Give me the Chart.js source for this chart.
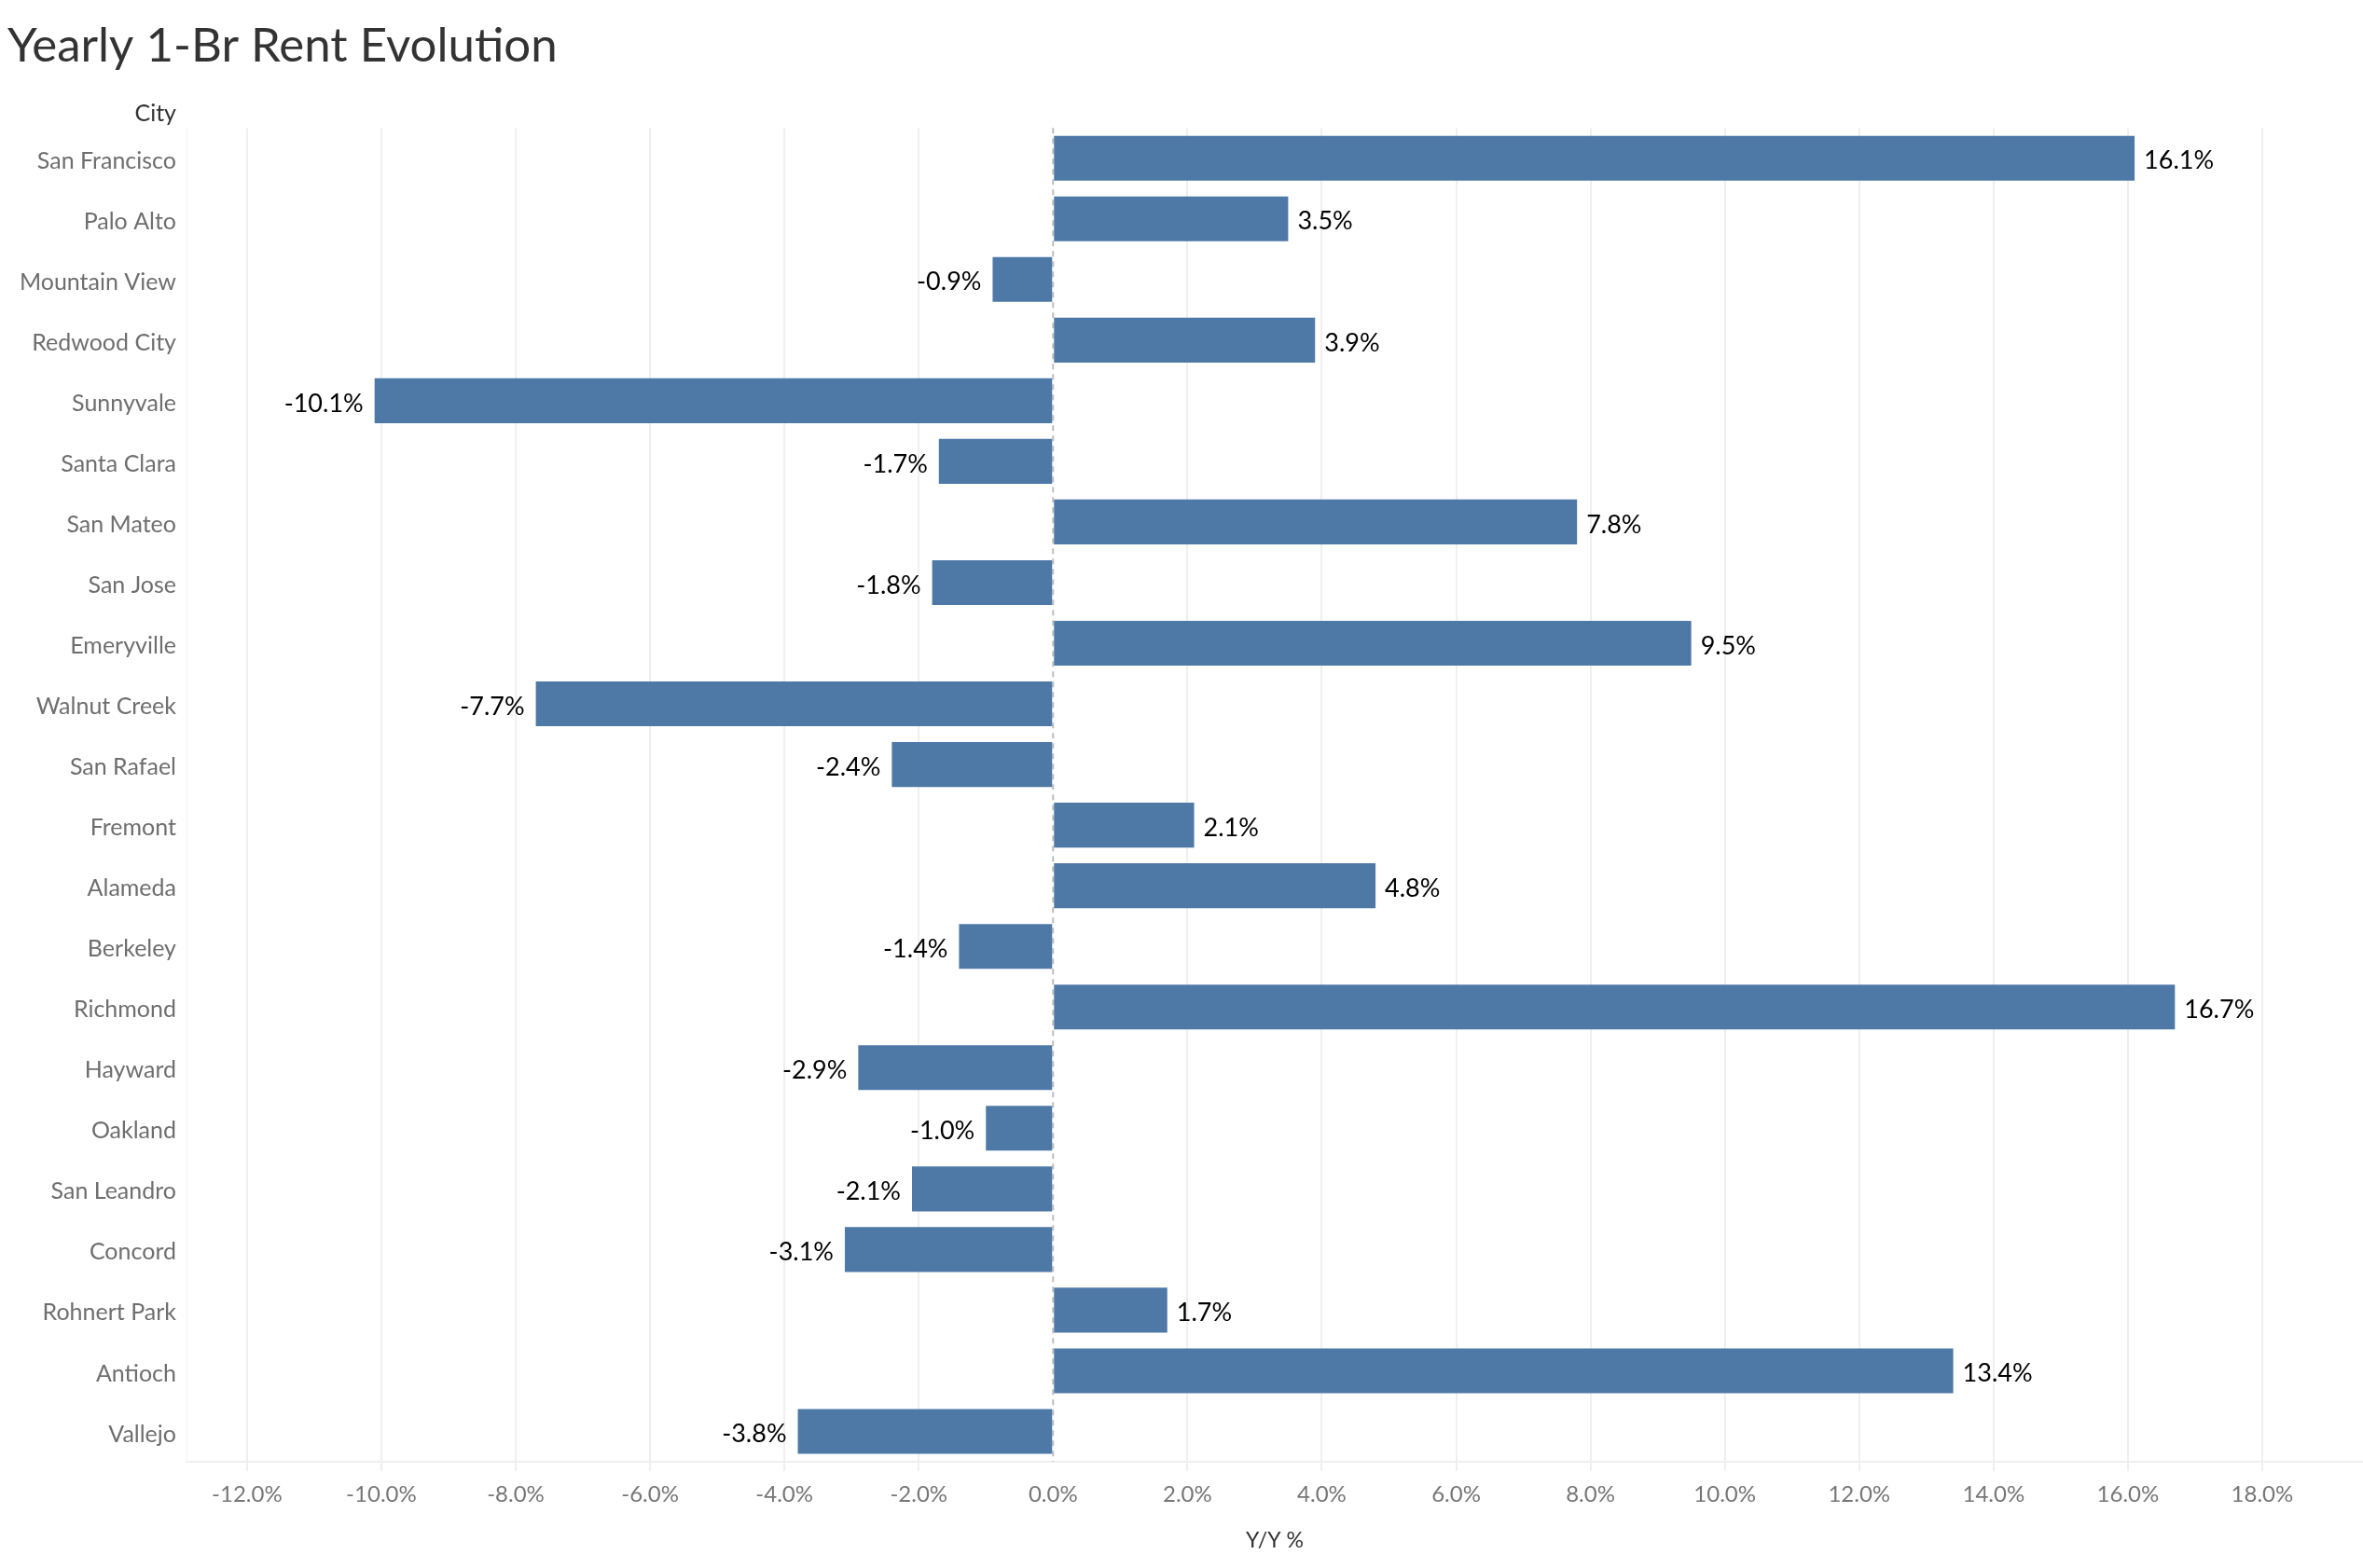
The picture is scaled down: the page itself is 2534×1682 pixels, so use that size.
<!DOCTYPE html>
<html>
<head>
<meta charset="utf-8">
<script src="https://cdn.jsdelivr.net/npm/chart.js@4"></script>
<style>
  body { margin: 0; background: #fff; }
  #wrap { width: 2534px; height: 1682px; }
</style>
</head>
<body>
<div id="wrap"><canvas id="chart"></canvas></div>
<script>
const cities = ['San Francisco', 'Palo Alto', 'Mountain View', 'Redwood City', 'Sunnyvale', 'Santa Clara',
    'San Mateo', 'San Jose', 'Emeryville', 'Walnut Creek', 'San Rafael', 'Fremont', 'Alameda', 'Berkeley',
    'Richmond', 'Hayward', 'Oakland', 'San Leandro', 'Concord', 'Rohnert Park', 'Antioch', 'Vallejo']
const yoy = [16.1, 3.5, -0.9, 3.9, -10.1, -1.7, 7.8, -1.8, 9.5, -7.7, -2.4, 2.1, 4.8, -1.4,
    16.7, -2.9, -1.0, -2.1, -3.1, 1.7, 13.4, -3.8]
const xTicks = [-12, -10, -8, -6, -4, -2, 0, 2, 4, 6, 8, 10, 12, 14, 16, 18]

const font = 'Lato'

// value labels at the end of each bar, plus the dashed zero line and the "City" header
const extras = {
    id: 'extras',
    beforeDatasetsDraw(chart) {
        const c = chart.ctx
        const x0 = chart.scales.x.getPixelForValue(0)
        c.save()
        c.strokeStyle = '#bdbdbd'
        c.lineWidth = 2
        c.setLineDash([6, 5])
        c.beginPath()
        c.moveTo(x0, chart.chartArea.top)
        c.lineTo(x0, chart.chartArea.bottom)
        c.stroke()
        c.restore()
    },
    afterDatasetsDraw(chart) {
        const c = chart.ctx
        const meta = chart.getDatasetMeta(0)
        c.save()
        c.font = '27px ' + font
        c.fillStyle = '#000'
        c.textBaseline = 'middle'
        meta.data.forEach(function(bar, i) {
            const v = yoy[i]
            if (v >= 0) {
                c.textAlign = 'left'
                c.fillText(v.toFixed(1) + '%', bar.x + 10, bar.y + 3)
            } else {
                c.textAlign = 'right'
                c.fillText(v.toFixed(1) + '%', bar.x - 12, bar.y + 3)
            }
        })
        c.font = '25px ' + font
        c.fillStyle = '#333'
        c.textAlign = 'right'
        c.fillText('City', chart.chartArea.left - 11, chart.chartArea.top - 15)
        c.restore()
    }
}

new Chart(document.getElementById('chart'), {
    type: 'bar',
    data: {
        labels: cities,
        datasets: [{
            data: yoy,
            backgroundColor: '#4e79a7',
            categoryPercentage: 1,
            barPercentage: 0.74
        }]
    },
    options: {
        indexAxis: 'y',
        responsive: true,
        maintainAspectRatio: false,
        devicePixelRatio: 1,
        animation: false,
        layout: { padding: { left: 8, right: 0, top: 0, bottom: 0 } },
        plugins: {
            legend: { display: false },
            tooltip: { enabled: false },
            title: {
                display: true,
                text: 'Yearly 1-Br Rent Evolution',
                align: 'start',
                color: '#333',
                font: { family: font, size: 51, weight: 'normal', lineHeight: 1.2 },
                padding: { top: 19, bottom: 57 }
            }
        },
        scales: {
            x: {
                min: -12.9,
                max: 19.5,
                afterBuildTicks(scale) {
                    scale.ticks = xTicks.map(v => ({ value: v }))
                },
                afterFit(scale) {
                    scale.height = 114
                },
                grid: {
                    color: ctx => ctx.tick && ctx.tick.value === 0 ? 'rgba(0,0,0,0)' : '#efefef',
                    lineWidth: 2,
                    tickLength: 10
                },
                border: { display: true, color: '#efefef', width: 2 },
                ticks: {
                    padding: 11,
                    color: '#767676',
                    font: { family: font, size: 24 },
                    callback: v => v.toFixed(1) + '%'
                },
                title: {
                    display: true,
                    text: 'Y/Y %',
                    color: '#333',
                    font: { family: font, size: 23 },
                    padding: { top: 0, bottom: 16 }
                }
            },
            y: {
                afterFit(scale) {
                    scale.width = 192
                },
                grid: { display: false, drawTicks: false },
                border: { display: true, color: '#f2f2f2', width: 1 },
                ticks: {
                    padding: 11,
                    labelOffset: 3,
                    color: '#6e6e6e',
                    font: { family: font, size: 25 }
                }
            }
        }
    },
    plugins: [extras]
})
</script>
</body>
</html>
